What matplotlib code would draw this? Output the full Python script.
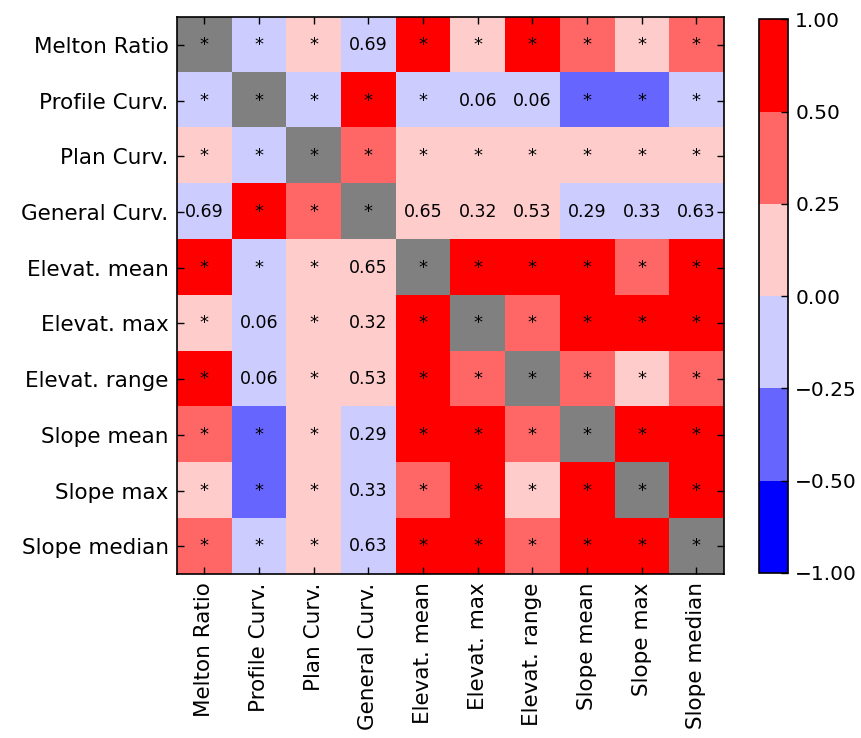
import numpy as np
import matplotlib
matplotlib.use("Agg")
from matplotlib import pyplot as plt
from matplotlib.colors import ListedColormap, BoundaryNorm

# variables
labels = ["Melton Ratio", "Profile Curv.", "Plan Curv.", "General Curv.",
          "Elevat. mean", "Elevat. max", "Elevat. range",
          "Slope mean", "Slope max", "Slope median"]

# estimated correlation coefficients (diagonal left empty -> grey)
corr = np.array([
    [np.nan, -0.12, 0.15, -0.02, 0.62, 0.18, 0.71, 0.41, 0.20, 0.38],
    [-0.12, np.nan, -0.14, 0.66, -0.10, -0.08, -0.09, -0.38, -0.42, -0.16],
    [0.15, -0.14, np.nan, 0.31, 0.12, 0.10, 0.09, 0.14, 0.11, 0.13],
    [-0.02, 0.66, 0.31, np.nan, 0.03, 0.05, 0.04, -0.05, -0.04, -0.03],
    [0.62, -0.10, 0.12, 0.03, np.nan, 0.88, 0.74, 0.68, 0.45, 0.70],
    [0.18, -0.08, 0.10, 0.05, 0.88, np.nan, 0.40, 0.60, 0.58, 0.62],
    [0.71, -0.09, 0.09, 0.04, 0.74, 0.40, np.nan, 0.42, 0.22, 0.44],
    [0.41, -0.38, 0.14, -0.05, 0.68, 0.60, 0.42, np.nan, 0.82, 0.95],
    [0.20, -0.42, 0.11, -0.04, 0.45, 0.58, 0.22, 0.82, np.nan, 0.78],
    [0.38, -0.16, 0.13, -0.03, 0.70, 0.62, 0.44, 0.95, 0.78, np.nan],
])

# p-values; significant (< 0.05) shown as "*"
pvals = np.array([
    [0.00, 0.00, 0.00, 0.69, 0.00, 0.00, 0.00, 0.00, 0.00, 0.00],
    [0.00, 0.00, 0.00, 0.00, 0.00, 0.06, 0.06, 0.00, 0.00, 0.00],
    [0.00, 0.00, 0.00, 0.00, 0.00, 0.00, 0.00, 0.00, 0.00, 0.00],
    [0.69, 0.00, 0.00, 0.00, 0.65, 0.32, 0.53, 0.29, 0.33, 0.63],
    [0.00, 0.00, 0.00, 0.65, 0.00, 0.00, 0.00, 0.00, 0.00, 0.00],
    [0.00, 0.06, 0.00, 0.32, 0.00, 0.00, 0.00, 0.00, 0.00, 0.00],
    [0.00, 0.06, 0.00, 0.53, 0.00, 0.00, 0.00, 0.00, 0.00, 0.00],
    [0.00, 0.00, 0.00, 0.29, 0.00, 0.00, 0.00, 0.00, 0.00, 0.00],
    [0.00, 0.00, 0.00, 0.33, 0.00, 0.00, 0.00, 0.00, 0.00, 0.00],
    [0.00, 0.00, 0.00, 0.63, 0.00, 0.00, 0.00, 0.00, 0.00, 0.00],
])

bounds = [-1.0, -0.5, -0.25, 0.0, 0.25, 0.5, 1.0]
colors = ["#0000ff", "#6666ff", "#ccccff", "#ffcccc", "#ff6666", "#ff0000"]

cmap = ListedColormap(colors)
cmap.set_bad("#808080")
norm = BoundaryNorm(bounds, cmap.N)

plt.rcParams["font.family"] = "DejaVu Sans"
fig = plt.figure(figsize=(8.61, 7.38), dpi=100)
ax = fig.add_axes([0.2056, 0.222, 0.635, 0.755])
cax = fig.add_axes([0.8815, 0.2236, 0.034, 0.750])

im = ax.imshow(np.ma.masked_invalid(corr), cmap=cmap, norm=norm,
               aspect="auto", interpolation="nearest")

n = len(labels)
for i in range(n):
    for j in range(n):
        if pvals[i, j] < 0.05:
            ax.text(j, i, "*", ha="center", va="center", fontsize=13, color="black")
        else:
            ax.text(j, i, "%.2f" % pvals[i, j], ha="center", va="center",
                    fontsize=12.5, color="black")

ax.set_xticks(range(n))
ax.set_yticks(range(n))
ax.set_xticklabels(labels, rotation=90, fontsize=15.5)
ax.set_yticklabels(labels, fontsize=15.5)
ax.tick_params(direction="in", top=True, right=True, length=5, width=1,
               color="black", pad=6)
for s in ax.spines.values():
    s.set_linewidth(1.2)

cb = fig.colorbar(im, cax=cax, boundaries=bounds, ticks=bounds)
cb.ax.set_yticklabels(["%.2f" % b if b >= 0 else "\u2212%.2f" % -b for b in bounds], fontsize=14.5)
cb.ax.tick_params(which="both", direction="in", length=5, width=1, pad=5)
cb.ax.minorticks_off()
cb.outline.set_linewidth(1.2)

fig.savefig("out.png", dpi=100)
